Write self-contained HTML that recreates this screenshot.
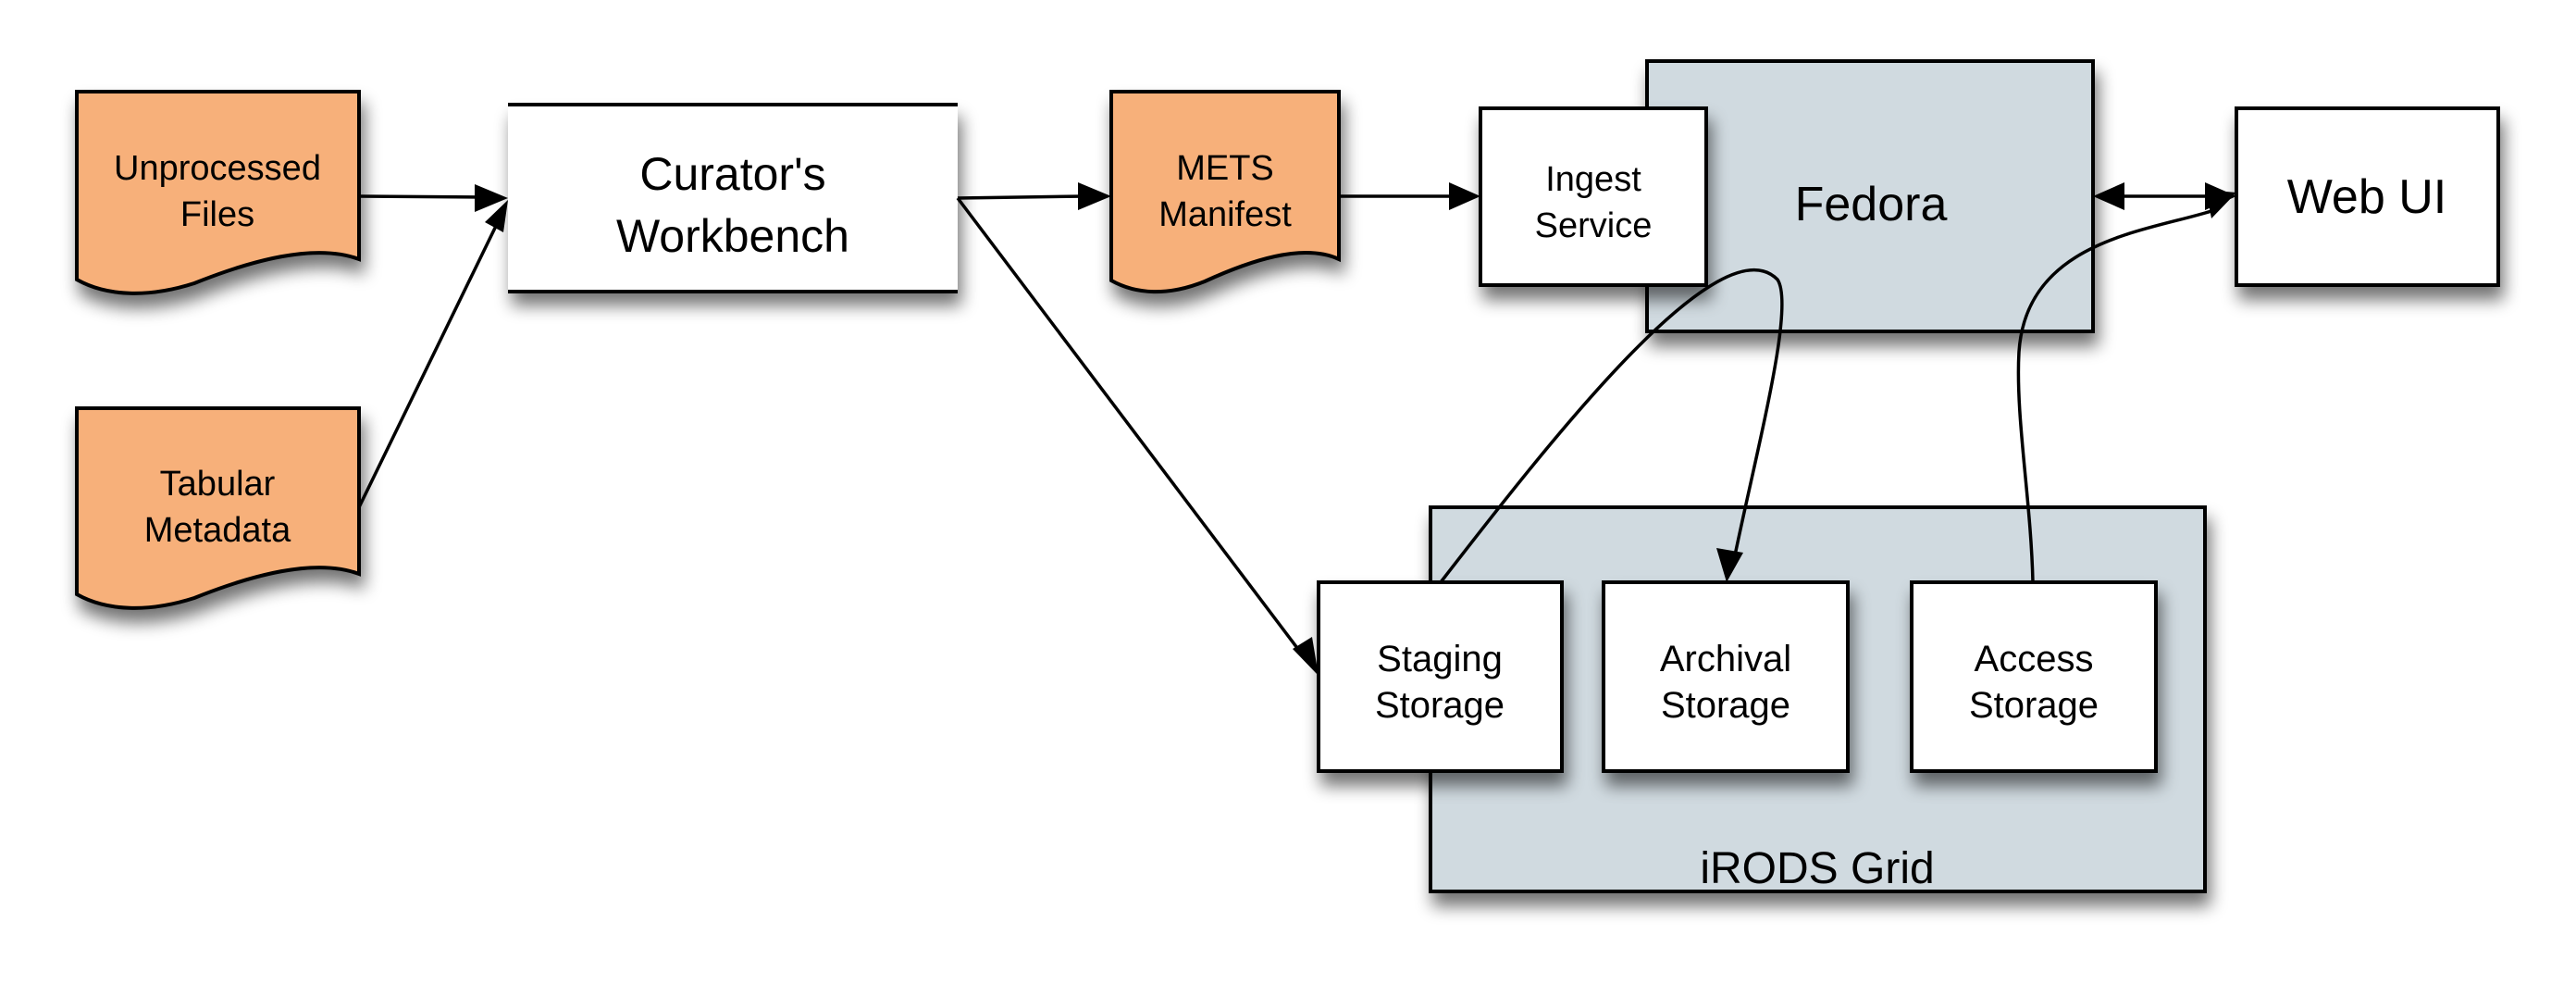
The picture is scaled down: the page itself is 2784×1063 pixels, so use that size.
<!DOCTYPE html>
<html><head><meta charset="utf-8"><style>
html,body{margin:0;padding:0;background:#fff}
svg{display:block}
text{font-family:"Liberation Sans",sans-serif;fill:#000;text-anchor:middle}
</style></head><body>
<svg width="2784" height="1063" viewBox="0 0 2784 1063" xmlns="http://www.w3.org/2000/svg">
<defs>
<filter id="sh" x="-20%" y="-20%" width="150%" height="160%">
<feGaussianBlur in="SourceAlpha" stdDeviation="9"/>
<feOffset dx="4" dy="14" result="b"/>
<feComponentTransfer><feFuncA type="linear" slope="0.55"/></feComponentTransfer>
<feMerge><feMergeNode/><feMergeNode in="SourceGraphic"/></feMerge>
</filter>
</defs>
<g stroke="#000" stroke-width="4">
<rect x="1780" y="66" width="482" height="292" fill="#d0dae0" filter="url(#sh)"/>
<rect x="1546" y="548" width="837" height="415" fill="#d0dae0" filter="url(#sh)"/>
<path d="M83 99 H388 V280 C340 262 270 282 210 306 C160 322 115 320 83 302 Z" fill="#f7b07a" filter="url(#sh)"/>
<path d="M83 441 H388 V620 C340 602 270 622 210 646 C160 662 115 660 83 642 Z" fill="#f7b07a" filter="url(#sh)"/>
<path d="M1201 99 H1447 V280 C1408 262 1350 282 1302 304 C1262 320 1228 318 1201 303 Z" fill="#f7b07a" filter="url(#sh)"/>
<rect x="549" y="112" width="486" height="204" fill="#fff" stroke="none" filter="url(#sh)"/>
<line x1="549" y1="113" x2="1035" y2="113"/>
<line x1="549" y1="315" x2="1035" y2="315"/>
<rect x="1600" y="117" width="244" height="191" fill="#fff" filter="url(#sh)"/>
<rect x="2417" y="117" width="283" height="191" fill="#fff" filter="url(#sh)"/>
<rect x="1425" y="629" width="263" height="204" fill="#fff" filter="url(#sh)"/>
<rect x="1733" y="629" width="264" height="204" fill="#fff" filter="url(#sh)"/>
<rect x="2066" y="629" width="264" height="204" fill="#fff" filter="url(#sh)"/>
<g fill="none" stroke-width="3.5">
<line x1="388" y1="212" x2="520" y2="213"/>
<line x1="388" y1="548" x2="538" y2="240"/>
<line x1="1035" y1="214" x2="1172" y2="212"/>
<line x1="1447" y1="212" x2="1572" y2="212"/>
<line x1="1035" y1="214" x2="1408" y2="708"/>
<line x1="2290" y1="212" x2="2390" y2="212"/>
<path d="M1557 629 C1680 470 1860 240 1921 302 C1940 330 1900 480 1875 600"/>
<path d="M2197 629 C2195 540 2178 450 2182 380 C2190 260 2320 250 2390 228"/>
</g>
</g>
<g fill="#000">
<polygon points="549,214 513,199 513,229"/>
<polygon points="549,216 524,240 544,251"/>
<polygon points="1201,212 1165,197 1165,227"/>
<polygon points="1600,212 1566,197 1566,227"/>
<polygon points="1425,730 1397,701 1418,688"/>
<polygon points="2262,212 2296,197 2296,227"/>
<polygon points="2417,212 2383,197 2383,227"/>
<polygon points="2417,208 2384,205 2390,236"/>
<polygon points="1866,629 1855,592 1884,597"/>
</g>
<text x="235" y="194" font-size="38">Unprocessed</text>
<text x="235" y="244" font-size="38">Files</text>
<text x="235" y="535" font-size="38">Tabular</text>
<text x="235" y="585" font-size="38">Metadata</text>
<text x="792" y="205" font-size="50">Curator's</text>
<text x="792" y="272" font-size="50">Workbench</text>
<text x="1324" y="194" font-size="38">METS</text>
<text x="1324" y="244" font-size="38">Manifest</text>
<text x="1722" y="206" font-size="38">Ingest</text>
<text x="1722" y="256" font-size="38">Service</text>
<text x="2022" y="238" font-size="52">Fedora</text>
<text x="2558" y="230" font-size="52">Web UI</text>
<text x="1556" y="725" font-size="40">Staging</text>
<text x="1556" y="775" font-size="40">Storage</text>
<text x="1865" y="725" font-size="40">Archival</text>
<text x="1865" y="775" font-size="40">Storage</text>
<text x="2198" y="725" font-size="40">Access</text>
<text x="2198" y="775" font-size="40">Storage</text>
<text x="1964" y="954" font-size="48">iRODS Grid</text>
</svg>
</body></html>
